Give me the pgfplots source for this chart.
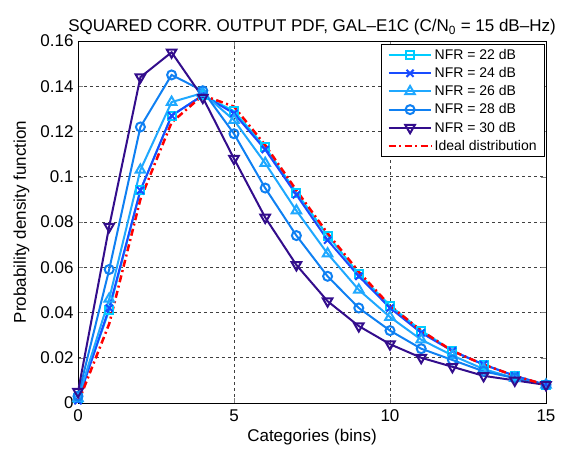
\documentclass[border=0pt]{standalone}
\usepackage{pgfplots}
\pgfplotsset{compat=1.18}
\usepackage{fontspec}
\setmainfont{Liberation Sans}
\definecolor{c22}{rgb}{0.0,0.80,1.0}
\definecolor{c24}{rgb}{0.10,0.30,1.0}
\definecolor{c26}{rgb}{0.12,0.66,1.0}
\definecolor{c28}{rgb}{0.06,0.50,0.95}
\definecolor{c30}{rgb}{0.20,0.05,0.55}
\begin{document}
\begin{tikzpicture}
\begin{axis}[
  name=ax,
  scale only axis, width=468pt, height=362pt,
  xmin=0, xmax=15, ymin=0, ymax=0.16,
  xtick={0,5,10,15}, ytick={0,0.02,...,0.16},
  yticklabel style={/pgf/number format/fixed, /pgf/number format/precision=2},
  /pgf/number format/assume math mode=true,
  scaled y ticks=false,
  tick align=inside, tick pos=both,
  major tick length=5pt,
  grid=major, major grid style={black!75, dash pattern=on 3pt off 3pt, line width=0.5pt},
  axis line style={black, line width=0.7pt},
  tick label style={font=\fontsize{17}{19}\selectfont},
  label style={font=\fontsize{17}{19}\selectfont},
  xlabel={Categories (bins)}, ylabel={Probability density function},
  xticklabel style={yshift=-3pt},
  yticklabel style={xshift=-1pt},
  xlabel style={yshift=-1pt}, ylabel style={yshift=4pt},
  title={SQUARED CORR. OUTPUT PDF, GAL--E1C (C/N\textsubscript{0} = 15 dB--Hz)},
  title style={font=\fontsize{17}{19}\selectfont, yshift=-4pt},
  legend style={at={(0.998,0.992)}, anchor=north east, font=\fontsize{14}{16}\selectfont,
    draw=black, line width=0.9pt, inner xsep=6pt, inner ysep=3pt, row sep=2.5pt, cells={anchor=west}},
  legend image code/.code={\draw[mark repeat=2,mark phase=2] plot coordinates {(0cm,0cm) (0.75cm,0cm) (1.5cm,0cm)};},
]
\addplot[c22, line width=2pt, mark=square, mark size=4pt] coordinates {
(0,0.002)(1,0.041)(2,0.094)(3,0.127)(4,0.136)(5,0.129)(6,0.113)(7,0.093)(8,0.074)(9,0.057)(10,0.043)(11,0.032)(12,0.023)(13,0.017)(14,0.012)(15,0.008)};
\addlegendentry{NFR = 22 dB}
\addplot[c24, line width=2pt, mark=x, mark size=5pt] coordinates {
(0,0.001)(1,0.042)(2,0.094)(3,0.127)(4,0.136)(5,0.128)(6,0.112)(7,0.092)(8,0.072)(9,0.056)(10,0.042)(11,0.031)(12,0.023)(13,0.017)(14,0.012)(15,0.008)};
\addlegendentry{NFR = 24 dB}
\addplot[c26, line width=2pt, mark=triangle, mark size=5.5pt] coordinates {
(0,0.002)(1,0.046)(2,0.103)(3,0.133)(4,0.137)(5,0.125)(6,0.106)(7,0.085)(8,0.066)(9,0.050)(10,0.038)(11,0.028)(12,0.021)(13,0.015)(14,0.011)(15,0.008)};
\addlegendentry{NFR = 26 dB}
\addplot[c28, line width=2pt, mark=o, mark size=4.5pt] coordinates {
(0,0.003)(1,0.059)(2,0.122)(3,0.145)(4,0.138)(5,0.119)(6,0.095)(7,0.074)(8,0.056)(9,0.042)(10,0.032)(11,0.024)(12,0.019)(13,0.014)(14,0.011)(15,0.008)};
\addlegendentry{NFR = 28 dB}
\addplot[c30, line width=2pt, mark=triangle, mark size=5.5pt, mark options={rotate=180}] coordinates {
(0,0.005)(1,0.078)(2,0.144)(3,0.155)(4,0.135)(5,0.108)(6,0.082)(7,0.061)(8,0.045)(9,0.034)(10,0.026)(11,0.020)(12,0.016)(13,0.012)(14,0.010)(15,0.008)};
\addlegendentry{NFR = 30 dB}
\addplot[red, line width=2.5pt, dash pattern=on 7pt off 3.5pt on 2pt off 3.5pt] coordinates {
(0,0.000)(1,0.035)(2,0.090)(3,0.124)(4,0.136)(5,0.131)(6,0.114)(7,0.094)(8,0.075)(9,0.058)(10,0.043)(11,0.032)(12,0.023)(13,0.017)(14,0.012)(15,0.008)};
\addlegendentry{Ideal distribution}
\end{axis}
\pgfresetboundingbox
\path (ax.south west) ++(-78pt,-49pt) coordinate (bl);
\path (ax.north east) ++(25pt,41pt) coordinate (tr);
\path (bl) rectangle (tr);
\end{tikzpicture}
\end{document}
